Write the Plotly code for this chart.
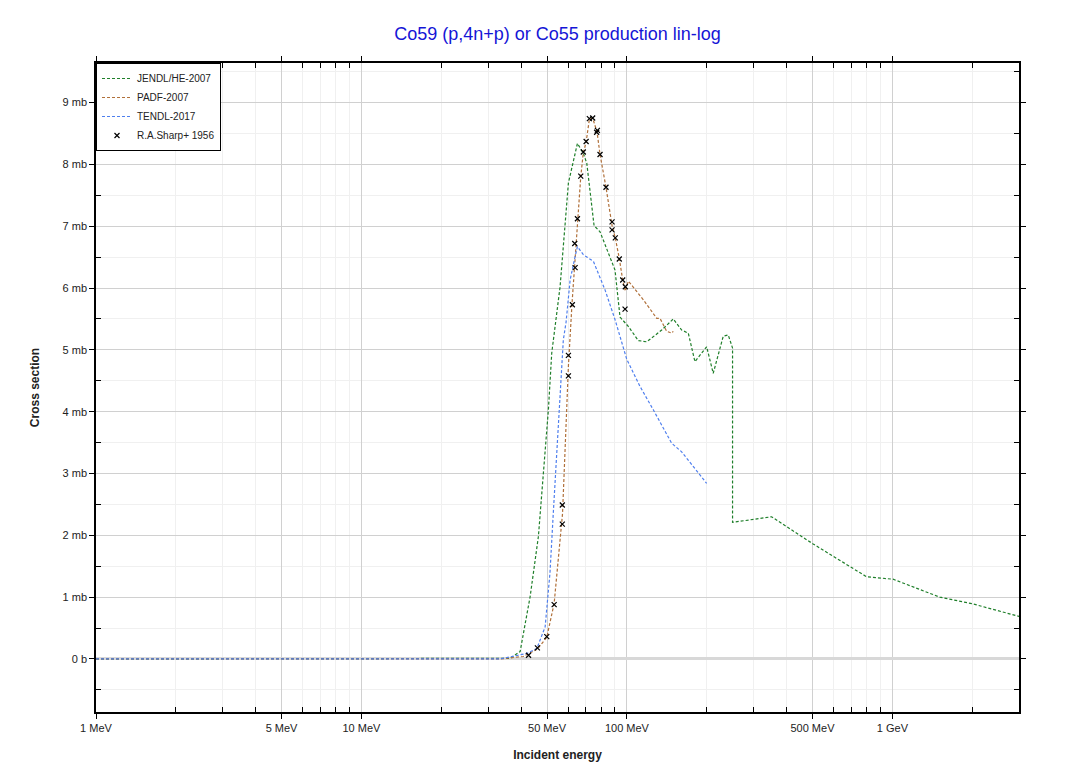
import plotly.graph_objects as go

# ---------------- data (energies in MeV, cross sections in mb) ----------------
jendl_e = [1, 33.3, 36.3, 39.6, 43.2, 46.4, 48.5, 50.6, 52.1, 53.6, 56.0, 60.2, 65.1, 68.5, 70.6,
           75.2, 79.2, 90.2, 94.2, 101.2, 110.4, 118.8, 135.2, 149.5, 160.8, 170.3, 180.4,
           199.7, 211.4, 230.6, 240.8, 250.0, 250.0, 350.8, 503, 799, 1006, 1508, 2013, 3020]
jendl_xs = [0, 0, 0.01, 0.12, 1.01, 1.98, 3.00, 4.03, 4.95, 5.40, 6.02, 7.70, 8.34, 8.18, 8.02,
            7.01, 6.91, 6.29, 5.53, 5.38, 5.15, 5.13, 5.32, 5.50, 5.32, 5.27, 4.81,
            5.05, 4.62, 5.22, 5.24, 5.03, 2.21, 2.30, 1.86, 1.33, 1.29, 1.00, 0.89, 0.685]

padf_e = [1, 33.3, 40.7, 46.0, 49.9, 53.2, 57.2, 60.2, 62.1, 63.8, 65.1, 67.0, 68.5, 70.2, 72.2,
          74.3, 77.2, 79.2, 83.4, 87.9, 90.4, 93.6, 96.4, 98.6, 101.2, 102.7, 115.3, 129.5,
          133.2, 141.2, 147.4, 149.5]
padf_xs = [0, 0, 0.04, 0.16, 0.35, 0.90, 2.35, 4.74, 5.74, 6.47, 7.11, 7.80, 8.19, 8.36, 8.73,
           8.75, 8.52, 8.16, 7.63, 7.01, 6.81, 6.48, 6.13, 5.95, 6.11, 6.08, 5.81, 5.51,
           5.51, 5.30, 5.27, 5.30]

tendl_e = [1, 33.3, 42.0, 45.8, 49.2, 51.3, 52.8, 54.4, 56.0, 57.6, 59.0, 61.1, 63.8, 65.1, 68.5,
           74.8, 82.7, 90.2, 99.8, 112, 125.7, 147.4, 160.8, 199.7]
tendl_xs = [0, 0, 0.09, 0.17, 0.52, 1.39, 2.36, 3.33, 4.41, 5.16, 5.45, 6.13, 6.51, 6.67, 6.54,
            6.43, 5.97, 5.49, 4.85, 4.41, 4.03, 3.49, 3.35, 2.84]

sharp_e = [42.6, 46.0, 49.9, 53.2, 57.1, 57.1, 60.2, 60.2, 62.3, 63.8, 63.6, 65.1, 67.0, 68.5,
           70.2, 72.2, 74.3, 76.9, 77.4, 79.2, 83.4, 87.9, 87.9, 90.4, 93.6, 96.4, 98.6, 98.4]
sharp_xs = [0.06, 0.18, 0.36, 0.88, 2.49, 2.18, 4.91, 4.58, 5.73, 6.33, 6.72, 7.12, 7.81, 8.20,
            8.37, 8.74, 8.75, 8.52, 8.55, 8.16, 7.63, 7.07, 6.94, 6.81, 6.47, 6.13, 6.02, 5.66]

x_tick_vals = [1, 5, 10, 50, 100, 500, 1000]
x_tick_text = ["1 MeV", "5 MeV", "10 MeV", "50 MeV", "100 MeV", "500 MeV", "1 GeV"]
x_minor_vals = [2, 3, 4, 6, 7, 8, 9, 20, 30, 40, 60, 70, 80, 90,
                200, 300, 400, 600, 700, 800, 900, 2000, 3000]
y_tick_vals = [0, 1, 2, 3, 4, 5, 6, 7, 8, 9]
y_tick_text = ["0 b", "1 mb", "2 mb", "3 mb", "4 mb", "5 mb", "6 mb", "7 mb", "8 mb", "9 mb"]
y_minor_vals = [-0.5, 0.5, 1.5, 2.5, 3.5, 4.5, 5.5, 6.5, 7.5, 8.5, 9.5]

# ---------------- figure ----------------
FONT = "Liberation Sans, Arial, sans-serif"
DASH = "3px,2px"
fig = go.Figure()
fig.add_trace(go.Scatter(x=jendl_e, y=jendl_xs, mode="lines", name="JENDL/HE-2007",
                         line=dict(color="#1f7f2a", width=1.2, dash=DASH)))
fig.add_trace(go.Scatter(x=padf_e, y=padf_xs, mode="lines", name="PADF-2007",
                         line=dict(color="#b0703a", width=1.2, dash=DASH)))
fig.add_trace(go.Scatter(x=tendl_e, y=tendl_xs, mode="lines", name="TENDL-2017",
                         line=dict(color="#4f7fee", width=1.2, dash=DASH)))
fig.add_trace(go.Scatter(x=sharp_e, y=sharp_xs, mode="markers", name="R.A.Sharp+ 1956",
                         marker=dict(symbol="x-thin", size=5, color="black",
                                     line=dict(color="black", width=1.2))))

fig.update_layout(
    width=1067, height=773,
    paper_bgcolor="white", plot_bgcolor="white",
    margin=dict(l=96, r=48, t=63, b=61),
    font=dict(family=FONT, size=11, color="#222"),
    title=dict(text="Co59 (p,4n+p) or Co55 production lin-log", x=0.5225, xanchor="center",
               y=1 - 34 / 773, yanchor="middle",
               font=dict(family=FONT, size=18, color="#1515d6")),
    showlegend=True,
    legend=dict(x=0, y=1, xanchor="left", yanchor="top", bgcolor="white",
                bordercolor="black", borderwidth=1, font=dict(family=FONT, size=10, color="#222"),
                tracegroupgap=0, itemwidth=30),
)
fig.update_xaxes(
    type="log", range=[0, 3.477],
    tickvals=x_tick_vals, ticktext=x_tick_text,
    ticks="outside", ticklen=5, tickcolor="black", tickwidth=1,
    showline=True, linecolor="black", linewidth=1.5, mirror="ticks",
    showgrid=True, gridcolor="#d0d0d0", gridwidth=1,
    minor=dict(tickvals=x_minor_vals, ticks="inside", ticklen=5, tickcolor="black",
               showgrid=True, gridcolor="#f0f0f0", gridwidth=1),
    title=dict(text="<b>Incident energy</b>", standoff=18, font=dict(family=FONT, size=12, color="#222")),
    tickfont=dict(family=FONT, size=11, color="#222"),
    automargin=False,
)
fig.update_yaxes(
    range=[-0.858, 9.64],
    tickvals=y_tick_vals, ticktext=y_tick_text,
    ticks="outside", ticklen=5, tickcolor="black", tickwidth=1,
    showline=True, linecolor="black", linewidth=1.5, mirror="ticks",
    showgrid=True, gridcolor="#d0d0d0", gridwidth=1,
    zeroline=True, zerolinecolor="#d8d8d8", zerolinewidth=2.5,
    minor=dict(tickvals=y_minor_vals, ticks="inside", ticklen=5, tickcolor="black",
               showgrid=True, gridcolor="#f0f0f0", gridwidth=1),
    title=dict(text="<b>Cross section</b>", standoff=20, font=dict(family=FONT, size=12, color="#222")),
    tickfont=dict(family=FONT, size=11, color="#222"),
    automargin=False,
)

fig.write_html("out.html", config={"displayModeBar": False},
               post_script="document.body.style.margin='0';document.body.style.overflow='hidden';")
